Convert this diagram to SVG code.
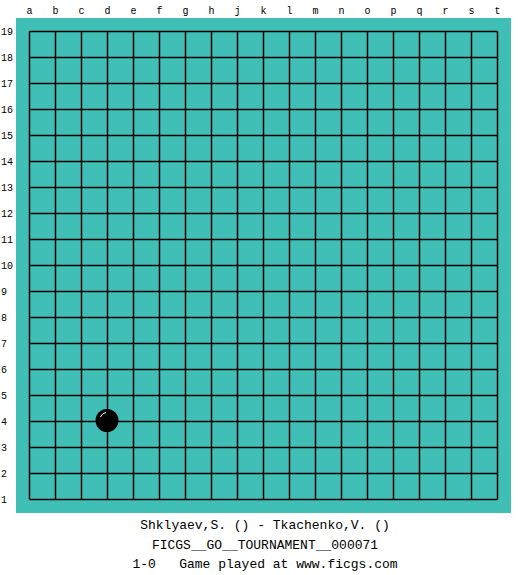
<svg xmlns="http://www.w3.org/2000/svg" width="525" height="575" viewBox="0 0 525 575">
<style>
.lbl{font-family:"Liberation Mono","DejaVu Sans Mono",monospace;font-size:10px;fill:#000}
.col{text-anchor:middle}
.cap{font-family:"Liberation Mono","DejaVu Sans Mono",monospace;font-size:13px;fill:#000;text-anchor:middle;white-space:pre}
.grid line{stroke:#000;stroke-width:1.5}
</style>
<rect x="0" y="0" width="525" height="575" fill="#fff"/>
<g id="board">
<rect x="16" y="18" width="495" height="495" fill="#40bfb6"/>
</g>
<g id="connectors" class="grid">
<line x1="29.5" y1="31.5" x2="497.5" y2="31.5"/><line x1="29.5" y1="57.5" x2="497.5" y2="57.5"/><line x1="29.5" y1="83.5" x2="497.5" y2="83.5"/><line x1="29.5" y1="109.5" x2="497.5" y2="109.5"/><line x1="29.5" y1="135.5" x2="497.5" y2="135.5"/><line x1="29.5" y1="161.5" x2="497.5" y2="161.5"/><line x1="29.5" y1="187.5" x2="497.5" y2="187.5"/><line x1="29.5" y1="213.5" x2="497.5" y2="213.5"/><line x1="29.5" y1="239.5" x2="497.5" y2="239.5"/><line x1="29.5" y1="265.5" x2="497.5" y2="265.5"/><line x1="29.5" y1="291.5" x2="497.5" y2="291.5"/><line x1="29.5" y1="317.5" x2="497.5" y2="317.5"/><line x1="29.5" y1="343.5" x2="497.5" y2="343.5"/><line x1="29.5" y1="369.5" x2="497.5" y2="369.5"/><line x1="29.5" y1="395.5" x2="497.5" y2="395.5"/><line x1="29.5" y1="421.5" x2="497.5" y2="421.5"/><line x1="29.5" y1="447.5" x2="497.5" y2="447.5"/><line x1="29.5" y1="473.5" x2="497.5" y2="473.5"/><line x1="29.5" y1="499.5" x2="497.5" y2="499.5"/>
<line x1="29.5" y1="31.5" x2="29.5" y2="499.5"/><line x1="55.5" y1="31.5" x2="55.5" y2="499.5"/><line x1="81.5" y1="31.5" x2="81.5" y2="499.5"/><line x1="107.5" y1="31.5" x2="107.5" y2="499.5"/><line x1="133.5" y1="31.5" x2="133.5" y2="499.5"/><line x1="159.5" y1="31.5" x2="159.5" y2="499.5"/><line x1="185.5" y1="31.5" x2="185.5" y2="499.5"/><line x1="211.5" y1="31.5" x2="211.5" y2="499.5"/><line x1="237.5" y1="31.5" x2="237.5" y2="499.5"/><line x1="263.5" y1="31.5" x2="263.5" y2="499.5"/><line x1="289.5" y1="31.5" x2="289.5" y2="499.5"/><line x1="315.5" y1="31.5" x2="315.5" y2="499.5"/><line x1="341.5" y1="31.5" x2="341.5" y2="499.5"/><line x1="367.5" y1="31.5" x2="367.5" y2="499.5"/><line x1="393.5" y1="31.5" x2="393.5" y2="499.5"/><line x1="419.5" y1="31.5" x2="419.5" y2="499.5"/><line x1="445.5" y1="31.5" x2="445.5" y2="499.5"/><line x1="471.5" y1="31.5" x2="471.5" y2="499.5"/><line x1="497.5" y1="31.5" x2="497.5" y2="499.5"/>
</g>
<g id="stone-d4">
<circle cx="107" cy="420.5" r="11.5" fill="#000"/>
<path d="M100.5,417 A7,7 0 0 1 106,412.5" fill="none" stroke="#fff" stroke-width="1"/>
</g>
<g id="col-labels" class="lbl col">
<text x="29.5" y="14">a</text><text x="55.5" y="14">b</text><text x="81.5" y="14">c</text><text x="107.5" y="14">d</text><text x="133.5" y="14">e</text><text x="159.5" y="14">f</text><text x="185.5" y="14">g</text><text x="211.5" y="14">h</text><text x="237.5" y="14">j</text><text x="263.5" y="14">k</text><text x="289.5" y="14">l</text><text x="315.5" y="14">m</text><text x="341.5" y="14">n</text><text x="367.5" y="14">o</text><text x="393.5" y="14">p</text><text x="419.5" y="14">q</text><text x="445.5" y="14">r</text><text x="471.5" y="14">s</text><text x="497.5" y="14">t</text>
</g>
<g id="row-labels" class="lbl">
<text x="1" y="34.5">19</text><text x="1" y="60.5">18</text><text x="1" y="86.5">17</text><text x="1" y="112.5">16</text><text x="1" y="138.5">15</text><text x="1" y="164.5">14</text><text x="1" y="190.5">13</text><text x="1" y="216.5">12</text><text x="1" y="242.5">11</text><text x="1" y="268.5">10</text><text x="1" y="294.5">9</text><text x="1" y="320.5">8</text><text x="1" y="346.5">7</text><text x="1" y="372.5">6</text><text x="1" y="398.5">5</text><text x="1" y="424.5">4</text><text x="1" y="450.5">3</text><text x="1" y="476.5">2</text><text x="1" y="502.5">1</text>
</g>
<g id="caption">
<text class="cap" x="265" y="529">Shklyaev,S. () - Tkachenko,V. ()</text>
<text class="cap" x="265" y="548.5">FICGS__GO__TOURNAMENT__000071</text>
<text class="cap" x="265" y="568" xml:space="preserve">1-0   Game played at www.ficgs.com</text>
</g>
</svg>
